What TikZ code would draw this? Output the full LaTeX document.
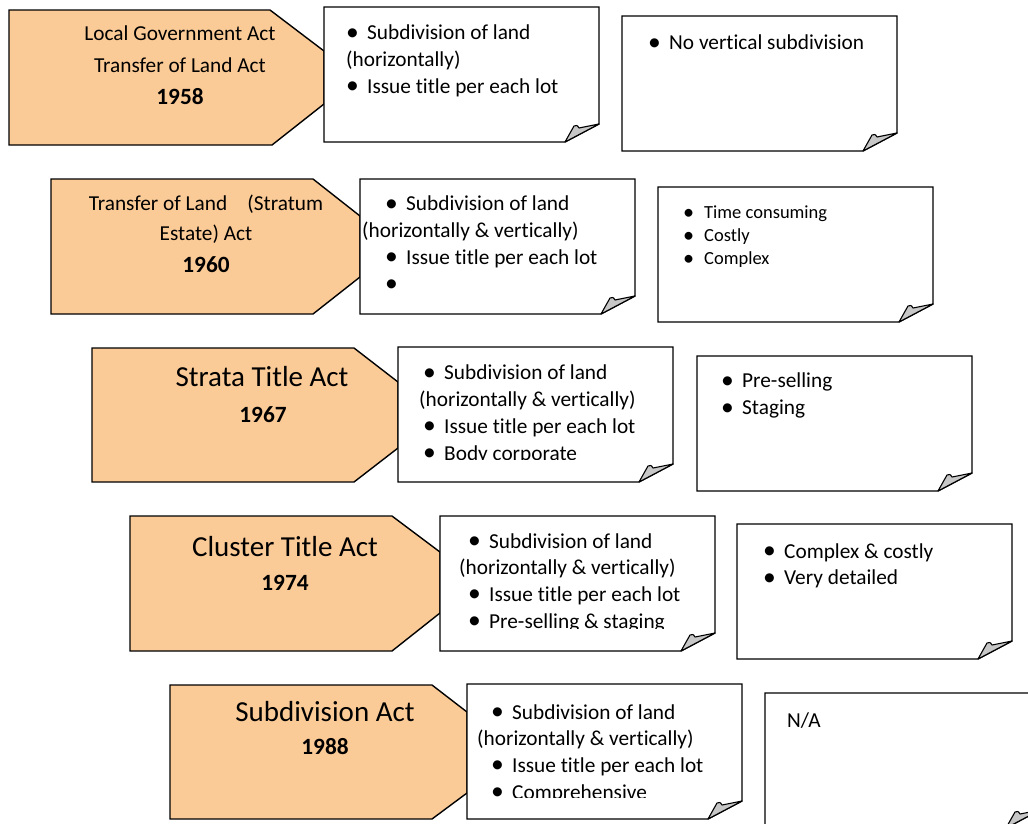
\documentclass[tikz,border=0pt]{standalone}
\usepackage{fontspec}
\setmainfont{Carlito}[Ligatures={NoCommon}]
\definecolor{actfill}{RGB}{251,203,151}
\tikzset{
  act/.style={draw=black, fill=actfill, line width=1.4pt},
  notebox/.style={draw=black, fill=white, line width=1.4pt},
  flap/.style={draw=black, fill=black!22, line width=1.1pt, line join=round},
  acttxt/.style={anchor=base, inner sep=0pt, font=\fontsize{21.3}{26}\selectfont},
  titletxt/.style={anchor=base, inner sep=0pt, font=\fontsize{29}{35}\selectfont},
  yeartxt/.style={anchor=base, inner sep=0pt, font=\fontsize{23.3}{28}\selectfont\bfseries},
  notetxt/.style={anchor=north west, inner sep=0pt, align=left, font=\fontsize{21.3}{26.7}\selectfont},
  smalltxt/.style={notetxt, font=\fontsize{18.5}{23}\selectfont}
}
\newcommand{\bul}{\makebox[21pt][l]{\raisebox{-0.4pt}{\scalebox{1.2}{•}}}}
% folded note: #1 name, #2 left, #3 top
\newcommand{\foldnote}[3]{%
  \coordinate (#1) at (#2,#3);
  \draw[notebox] (#1) -- (#2+275,#3) -- (#2+275,#3+117) -- (#2+241,#3+135) -- (#2,#3+135) -- cycle;
  \draw[flap] (#2+241,#3+135) -- (#2+250,#3+119) .. controls (#2+253,#3+118) .. (#2+255,#3+121) -- (#2+275,#3+117) -- cycle;
}
\begin{document}
\begin{tikzpicture}[x=1pt,y=-1pt]
\useasboundingbox (0,0) rectangle (1028,823);
\clip (0,0) rectangle (1028,823);

% the acts
\draw[act] (9,10) -- (270,10) -- (324,51) -- (324,104) -- (272,145) -- (9,145) -- cycle;
\draw[act] (51,179) -- (313,179) -- (360,216) -- (360,277) -- (313,314) -- (51,314) -- cycle;
\draw[act] (92,348) -- (354,348) -- (398,382) -- (398,448) -- (354,482) -- (92,482) -- cycle;
\draw[act] (130,516) -- (392,516) -- (440,552) -- (440,613) -- (392,651) -- (130,651) -- cycle;
\draw[act] (170,685) -- (432,685) -- (467,712) -- (467,793) -- (432,819) -- (170,819) -- cycle;

\node[acttxt] (lga) at (180,40) {Local Government Act};
\node[acttxt] (tla) at (180,72) {Transfer of Land Act};
\node[yeartxt] (y1958) at (180,104) {1958};
\node[acttxt] (tls) at (206,210) {Transfer of Land\hspace{0.95em}(Stratum};
\node[acttxt] (esa) at (206,240) {Estate) Act};
\node[yeartxt] (y1960) at (206,272) {1960};
\node[titletxt] (sta) at (262,386) {Strata Title Act};
\node[yeartxt] (y1967) at (263,422) {1967};
\node[titletxt] (cta) at (285,556) {Cluster Title Act};
\node[yeartxt] (y1974) at (285,590) {1974};
\node[titletxt] (sda) at (325,721) {Subdivision Act};
\node[yeartxt] (y1988) at (325,754) {1988};

% the notes
\foldnote{na1}{324}{7}
\foldnote{nb1}{622}{16}
\foldnote{na2}{360}{179}
\foldnote{nb2}{658}{187}
\foldnote{na3}{398}{347}
\foldnote{nb3}{697}{356}
\foldnote{na4}{440}{516}
\foldnote{nb4}{737}{524}
\foldnote{na5}{467}{684}
\foldnote{nb5}{765}{693}

\node[notetxt] (ta1) at (346,25) {\bul Subdivision of land\\(horizontally)\\\bul Issue title per each lot};
\node[notetxt] (tb1) at (648,35) {\bul No vertical subdivision};
\node[notetxt] (ta2) at (385,196) {\bul Subdivision of land\\\hspace*{-23pt}(horizontally \& vertically)\\\bul Issue title per each lot\\\bul};
\node[smalltxt] (tb2) at (683,206) {\bul Time consuming\\\bul Costly\\\bul Complex};
\begin{scope}
  \clip (398,347) rectangle (673,459);
  \node[notetxt] (ta3) at (423,365) {\bul Subdivision of land\\\hspace*{-4pt}(horizontally \& vertically)\\\bul Issue title per each lot\\\bul Body corporate};
\end{scope}
\node[notetxt] (tb3) at (721,373) {\bul Pre-selling\\\bul Staging};
\begin{scope}
  \clip (440,516) rectangle (713,628);
  \node[notetxt] (ta4) at (468,533) {\bul Subdivision of land\\\hspace*{-9pt}(horizontally \& vertically)\\\bul Issue title per each lot\\\bul Pre-selling \& staging};
\end{scope}
\node[notetxt] (tb4) at (763,543) {\bul Complex \& costly\\\bul Very detailed};
\begin{scope}
  \clip (467,684) rectangle (742,797);
  \node[notetxt] (ta5) at (491,704) {\bul Subdivision of land\\\hspace*{-14pt}(horizontally \& vertically)\\\bul Issue title per each lot\\\bul Comprehensive};
\end{scope}
\node[notetxt] (tb5) at (787,712) {N/A};
\end{tikzpicture}
\end{document}
